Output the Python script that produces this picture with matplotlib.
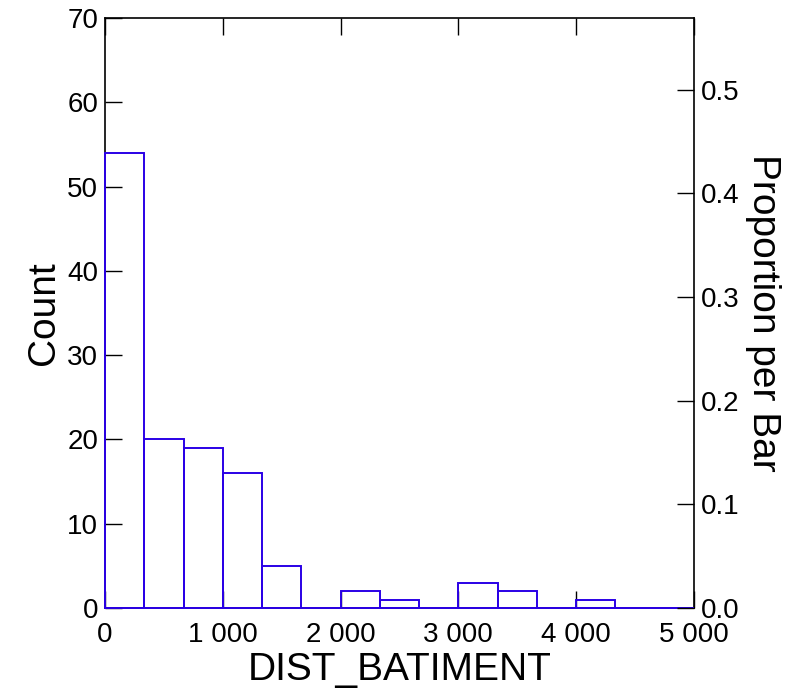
import matplotlib
matplotlib.use('Agg')
import matplotlib.pyplot as plt
from matplotlib.ticker import FuncFormatter

plt.rcParams['font.family'] = ['Liberation Sans', 'DejaVu Sans']

# histogram of DIST_BATIMENT, 15 bins of width 5000/15
bin_edges = [i * 5000 / 15 for i in range(16)]
counts = [54, 20, 19, 16, 5, 0, 2, 1, 0, 3, 2, 0, 1, 0, 0]
total = sum(counts)

fig = plt.figure(figsize=(8.02, 6.93), dpi=100)
ax = fig.add_axes([0.131, 0.1227, 0.734, 0.8513])

widths = [bin_edges[i + 1] - bin_edges[i] for i in range(len(counts))]
ax.bar(bin_edges[:-1], counts, width=widths, align='edge',
       facecolor='none', edgecolor='#2a00e6', linewidth=1.4,
       zorder=3, clip_on=False)

ax.set_xlim(0, 5000)
ax.set_ylim(0, 70)
ax.set_xticks([0, 1000, 2000, 3000, 4000, 5000])
ax.set_yticks(range(0, 71, 10))
ax.xaxis.set_major_formatter(FuncFormatter(lambda v, p: f'{int(v):,}'.replace(',', ' ')))
ax.tick_params(axis='x', direction='in', length=12, width=1, top=True, labelsize=20, pad=10)
ax.tick_params(axis='y', direction='in', length=12, width=1, right=False, labelsize=20, pad=5)
ax.set_xlabel('DIST_BATIMENT', fontsize=28, labelpad=3)
ax.set_ylabel('Count', fontsize=28, labelpad=4)
for s in ax.spines.values():
    s.set_linewidth(1.2)

ax2 = ax.twinx()
ax2.set_ylim(0, 70 / total)
ax2.set_yticks([0.0, 0.1, 0.2, 0.3, 0.4, 0.5])
ax2.yaxis.set_major_formatter(FuncFormatter(lambda v, p: f'{v:.1f}'))
ax2.tick_params(axis='y', direction='in', length=12, width=1, labelsize=20, pad=5)
ax2.set_ylabel('Proportion per Bar', fontsize=28, rotation=270, labelpad=30)
for s in ax2.spines.values():
    s.set_visible(False)

fig.savefig('out.png', dpi=100)
